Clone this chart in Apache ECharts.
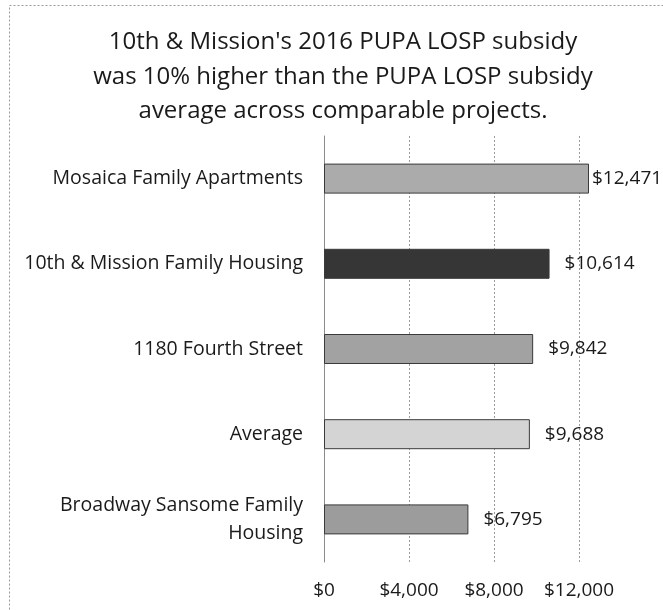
<!DOCTYPE html>
<html>
<head>
<meta charset="utf-8">
<script src="https://cdn.jsdelivr.net/npm/echarts@6/dist/echarts.min.js"></script>
<style>
  html, body { margin: 0; padding: 0; background: #fff; }
  #chart { width: 663px; height: 610px; }
</style>
</head>
<body>
<div id="chart"></div>
<script>
var categories = ['Mosaica Family Apartments', '10th & Mission Family Housing', '1180 Fourth Street', 'Average', 'Broadway Sansome Family\nHousing'];
var values = [12471, 10614, 9842, 9688, 6795];
var barColors = ['#ababab', '#363636', '#a2a2a2', '#d4d4d4', '#9c9c9c'];
var titleText = "10th & Mission's 2016 PUPA LOSP subsidy\nwas 10% higher than the PUPA LOSP subsidy\naverage across comparable projects.";

var font = 'Open Sans';

function money(v) {
	return '$' + Number(v).toLocaleString('en-US');
}

var myChart = echarts.init(document.getElementById('chart'));

var barData = values.map(function (v, i) {
	var item = { value: v, itemStyle: { color: barColors[i] } };
	// 最长的条形标签贴近条形
	if (i === 0) {
		item.label = { distance: 3 };
	}
	return item;
});

var option = {
	animation: false,
	title: {
		text: titleText,
		left: 338,
		top: 20,
		textAlign: 'center',
		textStyle: {
			fontFamily: font,
			fontWeight: 'normal',
			fontSize: 24,
			lineHeight: 34.5,
			color: '#1a1a1a'
		}
	},
	graphic: [{
		type: 'rect',
		shape: { x: 9.5, y: 5.5, width: 700, height: 700 },
		style: { fill: 'none', stroke: '#9a9a9a', lineWidth: 1, lineDash: [2, 2] },
		silent: true
	}],
	grid: {
		left: 324,
		right: 84,
		top: 136,
		bottom: 48,
		containLabel: false
	},
	xAxis: {
		type: 'value',
		min: 0,
		max: 12000,
		interval: 4000,
		axisLine: { show: false },
		axisTick: { show: false },
		splitLine: { show: true, lineStyle: { color: '#9a9a9a', type: [2, 2], width: 1 } },
		axisLabel: {
			fontFamily: font,
			fontSize: 19,
			color: '#1a1a1a',
			margin: 19,
			formatter: money
		}
	},
	yAxis: {
		type: 'category',
		inverse: true,
		data: categories,
		axisLine: { show: true, lineStyle: { color: '#8a8a8a', width: 1 } },
		axisTick: { show: false },
		axisLabel: {
			fontFamily: font,
			fontSize: 19.5,
			color: '#1a1a1a',
			margin: 21,
			lineHeight: 28,
			align: 'right'
		}
	},
	series: [{
		type: 'bar',
		data: barData,
		barWidth: 30,
		clip: false,
		itemStyle: { borderColor: '#3a3a3a', borderWidth: 1 },
		label: {
			show: true,
			position: 'right',
			distance: 15,
			fontFamily: font,
			fontSize: 19,
			color: '#1a1a1a',
			formatter: function (p) { return money(p.value); }
		}
	}]
};

myChart.setOption(option);
</script>
</body>
</html>
